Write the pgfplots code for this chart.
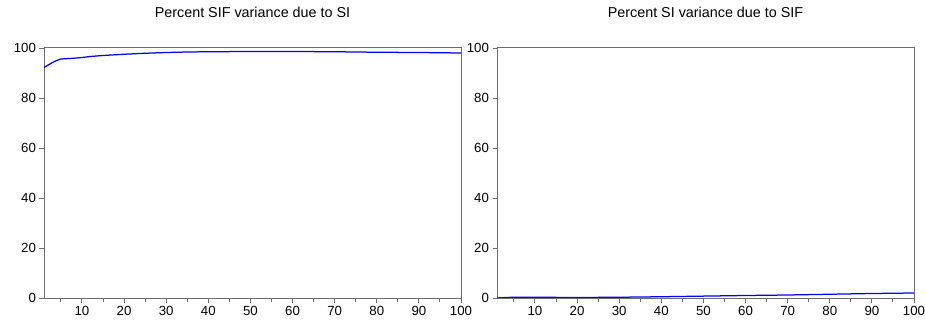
\documentclass[border=0pt]{standalone}
\usepackage{pgfplots}
\pgfplotsset{compat=1.18}
\usepackage{fontspec}
\setmainfont{Liberation Sans}
\definecolor{axgray}{RGB}{110,110,110}
\definecolor{lineblue}{RGB}{0,0,255}
\pgfplotsset{
  eviews/.style={
    scale only axis, width=417bp, height=250bp,
    xmin=1, xmax=100, ymin=0, ymax=100,
    xtick={10,20,...,100}, minor xtick={5,15,...,95},
    ytick={0,20,...,100},
    tick pos=left, tick align=outside,
    major tick length=4.5bp, minor tick length=4bp,
    every tick/.style={axgray, line width=0.9bp},
    every minor tick/.style={axgray, line width=0.9bp},
    axis line style={axgray, line width=1bp},
    tick label style={font=\fontsize{13.3}{15}\selectfont},
    /pgf/number format/assume math mode=true,
    title style={font=\fontsize{14.4}{16}\selectfont, at={(0.5,1)}, anchor=base, yshift=25bp},
  }
}
\begin{document}
\begin{tikzpicture}
\path[use as bounding box] (0,0) rectangle (925bp,325bp);
\begin{axis}[eviews, at={(44bp,27bp)}, anchor=south west,
  title={Percent SIF variance due to SI}]
\addplot[lineblue, line width=1.25bp, mark=none] coordinates {
(1,92.2) (2,93.2) (3,94.2) (4,95.0) (5,95.6) (6,95.7) (7,95.8) (8,95.9) (10,96.2)
(12,96.6) (15,97.0) (20,97.5) (25,97.9) (30,98.2) (35,98.4) (40,98.5) (50,98.6)
(60,98.6) (70,98.5) (80,98.3) (90,98.2) (100,98.0)};
\end{axis}
\begin{axis}[eviews, at={(497bp,27bp)}, anchor=south west,
  title={Percent SI variance due to SIF}]
\addplot[lineblue, line width=1.25bp, mark=none] coordinates {
(1,0.0) (3,0.2) (5,0.3) (10,0.3) (15,0.25) (20,0.2) (25,0.25) (30,0.3) (40,0.5)
(50,0.75) (60,1.0) (70,1.2) (80,1.5) (90,1.8) (100,2.0)};
\end{axis}
\end{tikzpicture}
\end{document}
